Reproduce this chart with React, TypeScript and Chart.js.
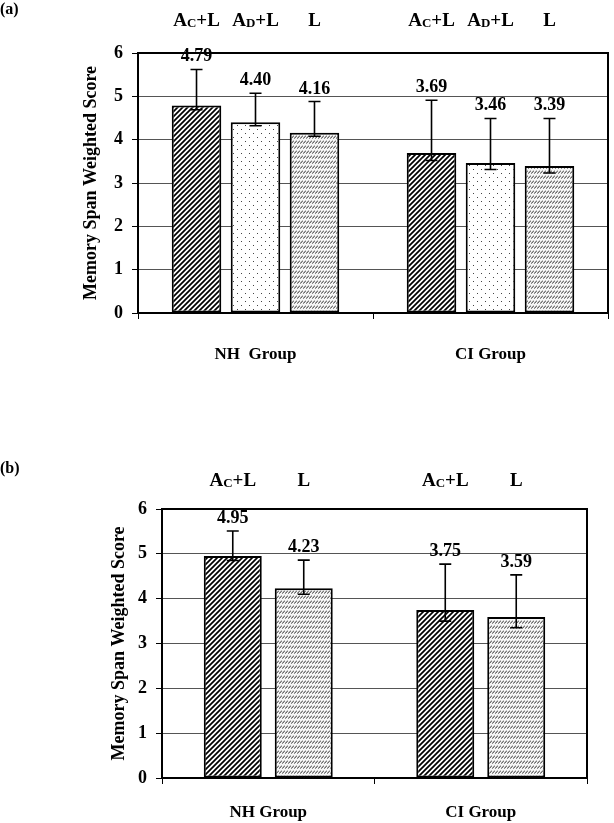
import React, { useEffect, useRef } from 'react';
import { Chart, registerables } from 'chart.js';

Chart.register(...registerables);

const FONT = '"Liberation Serif", "Times New Roman", serif';

// ---------- Panel (a) data ----------
const groupsA = ['NH  Group', 'CI Group'];
const acA = [4.79, 3.69];
const acPlusA = [0.83, 1.22];
const acMinusA = [0.1, 0.17];
const adA = [4.4, 3.46];
const adPlusA = [0.67, 1.03];
const adMinusA = [0.08, 0.15];
const lA = [4.16, 3.39];
const lPlusA = [0.72, 1.1];
const lMinusA = [0.08, 0.16];

// ---------- Panel (b) data ----------
const groupsB = ['NH Group', 'CI Group'];
const acB = [4.95, 3.75];
const acPlusB = [0.56, 1.02];
const acMinusB = [0.1, 0.25];
const lB = [4.23, 3.59];
const lPlusB = [0.63, 0.94];
const lMinusB = [0.13, 0.24];

// series labels: [main, subscript, rest]
const labelAC = ['A', 'C', '+L'];
const labelAD = ['A', 'D', '+L'];
const labelL = ['L', '', ''];

const yTitle = 'Memory Span Weighted Score';
const yMin = 0;
const yMax = 6;

function makePattern(kind: string): CanvasPattern | string {
  const c = document.createElement('canvas');
  const x = c.getContext('2d')!;
  if (kind === 'hatch') {
    const s = 5;
    c.width = s; c.height = s;
    x.fillStyle = '#fff'; x.fillRect(0, 0, s, s);
    x.strokeStyle = '#000'; x.lineWidth = 1.7;
    x.beginPath();
    x.moveTo(-1, s + 1); x.lineTo(s + 1, -1);
    x.moveTo(-s / 2 - 1, s / 2 + 1); x.lineTo(s / 2 + 1, -s / 2 - 1);
    x.moveTo(s / 2 - 1, s * 1.5 + 1); x.lineTo(s * 1.5 + 1, s / 2 - 1);
    x.stroke();
  } else if (kind === 'dots') {
    c.width = 8; c.height = 8;
    x.fillStyle = '#fff'; x.fillRect(0, 0, 8, 8);
    x.fillStyle = '#444';
    x.fillRect(1, 1, 1, 1);
    x.fillRect(5, 5, 1, 1);
  } else {
    c.width = 3; c.height = 5;
    x.fillStyle = '#f6f6f6'; x.fillRect(0, 0, 3, 5);
    x.strokeStyle = '#1a1a1a'; x.lineWidth = 1;
    x.beginPath();
    x.moveTo(0.2, 3.4); x.lineTo(2.8, 0.9);
    x.stroke();
  }
  return x.createPattern(c, 'repeat') || '#fff';
}

function drawSeriesLabel(ctx: CanvasRenderingContext2D, parts: string[], cx: number, base: number) {
  const big = `bold 19px ${FONT}`;
  const small = `bold 13px ${FONT}`;
  ctx.font = big;
  const w1 = ctx.measureText(parts[0]).width;
  const w3 = ctx.measureText(parts[2]).width;
  ctx.font = small;
  const w2 = parts[1] ? ctx.measureText(parts[1]).width : 0;
  let x = cx - (w1 + w2 + w3) / 2;
  ctx.textAlign = 'left';
  ctx.textBaseline = 'alphabetic';
  ctx.font = big;
  ctx.fillText(parts[0], x, base);
  x += w1;
  if (parts[1]) {
    ctx.font = small;
    ctx.fillText(parts[1], x, base + 1);
    x += w2;
  }
  ctx.font = big;
  if (parts[2]) ctx.fillText(parts[2], x, base);
}

const decor = {
  id: 'decor',
  afterDatasetsDraw(chart: any, _args: any, opts: any) {
    const ctx: CanvasRenderingContext2D = chart.ctx;
    const ys = chart.scales.y;
    const ca = chart.chartArea;
    ctx.save();
    ctx.strokeStyle = '#000';
    ctx.lineWidth = 2;
    ctx.strokeRect(ca.left, ca.top, ca.right - ca.left, ca.bottom - ca.top);
    ctx.fillStyle = '#000';
    chart.data.datasets.forEach((ds: any, di: number) => {
      const meta = chart.getDatasetMeta(di);
      meta.data.forEach((bar: any, j: number) => {
        const v = ds.data[j];
        const top = ys.getPixelForValue(v + ds.errPlus[j]);
        const bot = ys.getPixelForValue(v - ds.errMinus[j]);
        ctx.strokeStyle = '#000';
        ctx.lineWidth = 1.6;
        ctx.beginPath();
        ctx.moveTo(bar.x, top); ctx.lineTo(bar.x, bot);
        ctx.moveTo(bar.x - 6, top); ctx.lineTo(bar.x + 6, top);
        ctx.moveTo(bar.x - 6, bot); ctx.lineTo(bar.x + 6, bot);
        ctx.stroke();
        ctx.font = `bold 18px ${FONT}`;
        ctx.textAlign = 'center';
        ctx.textBaseline = 'alphabetic';
        ctx.fillText(v.toFixed(2), bar.x, top - 8);
        drawSeriesLabel(ctx, ds.parts, bar.x, opts.topBaseline);
      });
    });
    ctx.font = `bold 16px ${FONT}`;
    ctx.textAlign = 'left';
    ctx.textBaseline = 'alphabetic';
    ctx.fillText(opts.panel, 0, opts.panelBaseline);
    ctx.restore();
  },
};

interface PanelProps {
  groups: string[];
  series: { data: number[]; plus: number[]; minus: number[]; parts: string[]; pattern: string }[];
  height: number;
  pad: { left: number; right: number; top: number };
  yWidth: number;
  xHeight: number;
  xPad: number;
  catPct: number;
  barPct: number;
  panel: string;
  panelBaseline: number;
  topBaseline: number;
}

function Panel(p: PanelProps) {
  const ref = useRef<HTMLCanvasElement>(null);
  useEffect(() => {
    if (!ref.current) return;
    const chart = new Chart(ref.current, {
      type: 'bar',
      data: {
        labels: p.groups,
        datasets: p.series.map((s) => ({
          data: s.data,
          errPlus: s.plus,
          errMinus: s.minus,
          parts: s.parts,
          backgroundColor: makePattern(s.pattern),
          borderColor: '#000',
          borderWidth: 2,
          borderSkipped: false,
          categoryPercentage: p.catPct,
          barPercentage: p.barPct,
        })) as any,
      },
      options: {
        responsive: false,
        animation: false,
        devicePixelRatio: 1,
        layout: { padding: { left: p.pad.left, right: p.pad.right, top: p.pad.top, bottom: 0 } },
        plugins: {
          legend: { display: false },
          tooltip: { enabled: false },
          title: { display: false },
          decor: { panel: p.panel, panelBaseline: p.panelBaseline, topBaseline: p.topBaseline },
        } as any,
        scales: {
          x: {
            offset: true,
            grid: { display: true, drawOnChartArea: false, drawTicks: true, tickLength: 6, tickColor: '#000', color: '#000' },
            border: { display: false },
            ticks: { color: '#000', padding: p.xPad, font: { family: FONT, size: 17, weight: 'bold' } },
            afterFit: (s: any) => { s.height = p.xHeight; },
          },
          y: {
            min: yMin,
            max: yMax,
            ticks: { stepSize: 1, color: '#000', padding: 9, font: { family: FONT, size: 18, weight: 'bold' } },
            grid: { color: '#555', lineWidth: 1, tickLength: 6, tickColor: '#000' },
            border: { display: false },
            title: { display: true, text: yTitle, color: '#000', padding: 0, font: { family: FONT, size: 18, weight: 'bold' } },
            afterFit: (s: any) => { s.width = p.yWidth; },
          },
        },
      },
      plugins: [decor as any],
    });
    return () => chart.destroy();
  }, []);
  return <canvas ref={ref} width={614} height={p.height} style={{ display: 'block', width: 614, height: p.height }} />;
}

export default function App() {
  return (
    <div style={{ position: 'absolute', left: 0, top: 0, width: 614, height: 823, background: '#fff' }}>
      <Panel
        groups={groupsA}
        series={[
          { data: acA, plus: acPlusA, minus: acMinusA, parts: labelAC, pattern: 'hatch' },
          { data: adA, plus: adPlusA, minus: adMinusA, parts: labelAD, pattern: 'dots' },
          { data: lA, plus: lPlusA, minus: lMinusA, parts: labelL, pattern: 'rows' },
        ]}
        height={400}
        pad={{ left: 81, right: 6, top: 53 }}
        yWidth={57}
        xHeight={87}
        xPad={25}
        catPct={0.753}
        barPct={0.84}
        panel="(a)"
        panelBaseline={14}
        topBaseline={26}
      />
      <div style={{ height: 40 }} />
      <Panel
        groups={groupsB}
        series={[
          { data: acB, plus: acPlusB, minus: acMinusB, parts: labelAC, pattern: 'hatch' },
          { data: lB, plus: lPlusB, minus: lMinusB, parts: labelL, pattern: 'rows' },
        ]}
        height={383}
        pad={{ left: 109, right: 27, top: 69 }}
        yWidth={53}
        xHeight={45}
        xPad={18}
        catPct={0.668}
        barPct={0.817}
        panel="(b)"
        panelBaseline={33}
        topBaseline={46}
      />
    </div>
  );
}
